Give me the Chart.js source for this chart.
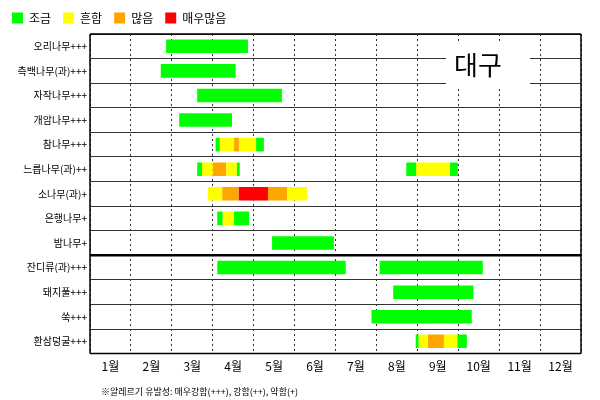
<!DOCTYPE html>
<html>
<head>
<meta charset="utf-8">
<script src="https://cdn.jsdelivr.net/npm/chart.js@4/dist/chart.umd.min.js"></script>
<style>
  body { margin: 0; background: #fff; }
  #wrap { width: 600px; height: 400px; }
</style>
</head>
<body>
<div id="wrap"><canvas id="c"></canvas></div>
<script>
const plants = ["오리나무+++", "측백나무(과)+++", "자작나무+++", "개암나무+++", "참나무+++", "느릅나무(과)++",
  "소나무(과)+", "은행나무+", "밤나무+", "잔디류(과)+++", "돼지풀+++", "쑥+++", "환삼덩굴+++"];
const levels = ["조금", "흔함", "많음", "매우많음"];
const levelColors = ["#00ff00", "#ffff00", "#ffa500", "#ff0000"];

// 구간: [식물, 시작(월), 끝(월)]
const lowSegs = [
  [0, 1.86, 3.86], [1, 1.73, 3.56], [2, 2.62, 4.69], [3, 2.18, 3.47],
  [4, 3.07, 3.17], [4, 4.06, 4.25], [5, 2.62, 2.74], [5, 3.59, 3.66],
  [5, 7.73, 7.97], [5, 8.80, 8.99], [7, 3.11, 3.24], [7, 3.52, 3.89],
  [8, 4.45, 5.96], [9, 3.11, 6.25], [9, 7.08, 9.60], [10, 7.41, 9.37],
  [11, 6.88, 9.33], [12, 7.96, 8.03], [12, 8.98, 9.21]
];
const commonSegs = [
  [4, 3.17, 3.52], [4, 3.64, 4.06], [5, 2.74, 3.00], [5, 3.33, 3.59],
  [5, 7.97, 8.80], [6, 2.88, 3.23], [6, 4.82, 5.31], [7, 3.24, 3.52],
  [12, 8.03, 8.26], [12, 8.65, 8.98]
];
const manySegs = [
  [4, 3.52, 3.64], [5, 3.00, 3.33], [6, 3.23, 3.63], [6, 4.35, 4.82], [12, 8.26, 8.65]
];
const veryManySegs = [
  [6, 3.63, 4.35]
];

const segSets = [lowSegs, commonSegs, manySegs, veryManySegs];
const datasets = segSets.map((segs, i) => ({
  label: levels[i],
  data: segs.map(s => ({ x: [s[1], s[2]], y: plants[s[0]] })),
  backgroundColor: levelColors[i],
  borderWidth: 0,
  borderSkipped: false,
  grouped: false,
  barPercentage: 0.55,
  categoryPercentage: 1
}));

const framePlugin = {
  id: "frame",
  afterDraw(chart) {
    const { ctx, chartArea: a, scales } = chart;
    const y = scales.y;
    ctx.save();
    ctx.strokeStyle = "#000";
    // 굵은 구분선 (밤나무/잔디류)
    const yb = (y.getPixelForValue(8) + y.getPixelForValue(9)) / 2;
    ctx.lineWidth = 2.5;
    ctx.beginPath();
    ctx.moveTo(a.left, yb); ctx.lineTo(a.right, yb);
    ctx.stroke();
    ctx.lineWidth = 1.5;
    ctx.beginPath();
    ctx.moveTo(a.left, a.top); ctx.lineTo(a.left, a.bottom);
    ctx.moveTo(a.right, a.top); ctx.lineTo(a.right, a.bottom);
    ctx.moveTo(a.left, a.top); ctx.lineTo(a.right, a.top);
    ctx.moveTo(a.left, a.bottom); ctx.lineTo(a.right, a.bottom);
    ctx.stroke();
    // 지역 표시
    ctx.fillStyle = "#fff";
    ctx.fillRect(446, 44, 84, 42);
    ctx.fillStyle = "#000";
    ctx.font = "26px 'Noto Sans CJK KR'";
    ctx.textAlign = "center";
    ctx.textBaseline = "middle";
    ctx.fillText("대구", 478, 65);
    // 주석
    ctx.font = "9px 'Noto Sans CJK KR'";
    ctx.textAlign = "left";
    ctx.fillText("※알레르기 유발성: 매우강함(+++), 강함(++), 약함(+)", 101, 392);
    ctx.restore();
  }
};

new Chart(document.getElementById("c"), {
  type: "bar",
  data: { labels: plants, datasets },
  options: {
    indexAxis: "y",
    responsive: true,
    maintainAspectRatio: false,
    animation: false,
    layout: { padding: { left: 0, right: 19, top: 0, bottom: 20 } },
    plugins: {
      tooltip: { enabled: false },
      legend: {
        position: "top",
        align: "start",
        labels: {
          boxWidth: 11, boxHeight: 11, padding: 12,
          color: "#000",
          font: { family: "'Noto Sans CJK KR'", size: 12 }
        }
      }
    },
    scales: {
      x: {
        type: "linear", min: 0, max: 12,
        ticks: {
          stepSize: 0.5, autoSkip: false, maxRotation: 0, color: "#000", padding: 6,
          font: { family: "'Noto Sans CJK KR'", size: 12 },
          callback: v => (v % 1 === 0.5 ? `${v + 0.5}월` : "")
        },
        grid: {
          color: c => (c.tick && c.tick.value % 1 === 0 ? "#333" : "rgba(0,0,0,0)"),
          drawTicks: false
        },
        border: { dash: [2, 3] }
      },
      y: {
        afterFit: s => { s.width = 90; },
        ticks: { color: "#000", font: { family: "'Noto Sans CJK KR'", size: 10 } },
        grid: { offset: true, color: "#333", drawTicks: false }
      }
    }
  },
  plugins: [framePlugin]
});
</script>
</body>
</html>
